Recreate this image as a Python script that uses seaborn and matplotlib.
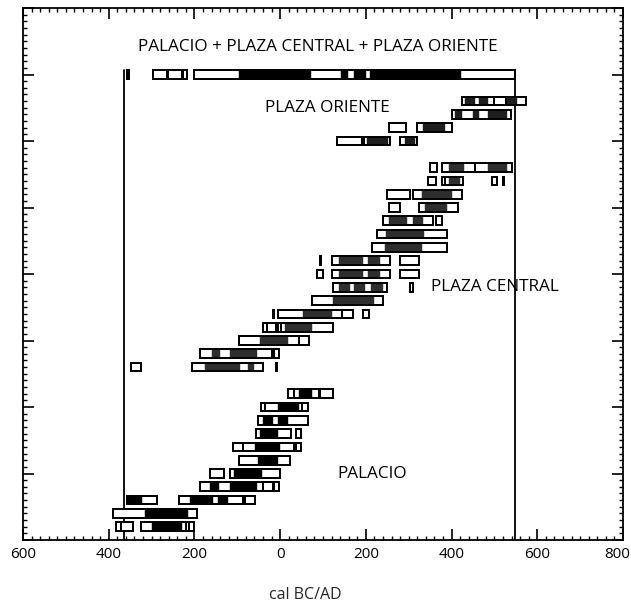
import matplotlib
matplotlib.use("Agg")
import matplotlib.pyplot as plt
import matplotlib.transforms as mtransforms
import seaborn as sns
import pandas as pd
from matplotlib.ticker import MultipleLocator

# ---------------- data (years: negative = BC, positive = AD) ----------------
# (row, start, end) of 95% ranges (white boxes)
combined_boxes = [(35, -357, -352), (35, -297, -264), (35, -262, -230), (35, -227, -217), (35, -200, 547)]
combined_dark = [(35, -96, 73), (35, 142, 159), (35, 173, 201), (35, 210, 423)]

oriente_boxes = [(33, 424, 498), (33, 498, 526), (33, 526, 573), (32, 400, 539),
                 (31, 255, 294), (31, 319, 400), (30, 133, 192), (30, 196, 257), (30, 280, 320)]
oriente_dark = [(33, 432, 455), (33, 464, 486), (33, 529, 552), (32, 408, 425), (32, 450, 464),
                (32, 484, 529), (31, 333, 385), (30, 203, 252), (30, 292, 315)]

central_boxes = [(28, 350, 367), (28, 377, 455), (28, 455, 541),
                 (27, 346, 363), (27, 377, 385), (27, 385, 426), (27, 494, 505), (27, 519, 522),
                 (26, 249, 303), (26, 310, 424),
                 (25, 255, 280), (25, 323, 415),
                 (24, 241, 356), (24, 364, 377),
                 (23, 226, 389),
                 (22, 214, 389),
                 (21, 92, 95), (21, 121, 257), (21, 280, 323),
                 (20, 86, 100), (20, 121, 257), (20, 280, 323),
                 (19, 124, 249), (19, 302, 311),
                 (18, 74, 241),
                 (17, -17, -15), (17, -4, 145), (17, 145, 170), (17, 193, 208),
                 (16, -39, -30), (16, -30, -9), (16, -6, 1), (16, 1, 124),
                 (15, -97, 43), (15, 43, 68),
                 (14, -188, -19), (14, -14, -2),
                 (13, -348, -324), (13, -206, -39), (13, -9, -7)]
central_dark = [(28, 393, 428), (28, 486, 529), (27, 393, 420), (26, 331, 401), (25, 338, 389),
                (24, 253, 296), (24, 311, 334), (23, 247, 336), (22, 245, 331),
                (21, 138, 194), (21, 206, 233), (20, 138, 194), (20, 206, 233),
                (19, 138, 163), (19, 172, 197), (19, 212, 240), (18, 123, 218), (17, 53, 121),
                (16, 12, 74), (15, -48, 19), (14, -159, -140), (14, -117, -53),
                (13, -175, -93), (13, -76, -62)]

palacio_boxes = [(11, 19, 33), (11, 33, 91), (11, 93, 123),
                 (10, -45, -35), (10, -35, 51), (10, 51, 64),
                 (9, -51, 64),
                 (8, -56, 25), (8, 37, 48),
                 (7, -111, -86), (7, -86, 33), (7, 37, 48),
                 (6, -97, 23),
                 (5, -163, -132), (5, -118, 0),
                 (4, -188, -39), (4, -39, -16), (4, -14, -2),
                 (3, -358, -288), (3, -237, -86), (3, -82, -58),
                 (2, -390, -194),
                 (1, -383, -372), (1, -372, -344), (1, -325, -219), (1, -219, -212), (1, -212, -202)]
palacio_dark = [(11, 43, 74), (10, -4, 43), (9, -39, -16), (9, -4, 19), (8, -47, -4), (7, -58, 0),
                (6, -52, -4), (5, -107, -43), (4, -163, -142), (4, -118, -53),
                (3, -355, -323), (3, -210, -156), (3, -144, -121), (2, -315, -214), (1, -299, -229)]

boundary_years = [-365, 547]
x_ticks = [-600, -400, -200, 0, 200, 400, 600, 800]
x_tick_labels = ["600", "400", "200", "0", "200", "400", "600", "800"]

labels = ["PALACIO + PLAZA CENTRAL + PLAZA ORIENTE", "PLAZA ORIENTE", "PLAZA CENTRAL", "PALACIO"]
label_x = [89, 110, 502, 215]
label_y = [37.1, 32.5, 19.0, 5.0]

# ---------------- figure ----------------
sns.set_theme(style="ticks")
plt.rcParams["font.family"] = ["Open Sans", "DejaVu Sans"]

fig = plt.figure(figsize=(6.31, 6.03), dpi=100)
ax = fig.add_axes([23 / 631, 1 - 540 / 603, 600 / 631, 532 / 603])

def to_df(rows):
    return pd.DataFrame(rows, columns=["row", "start", "end"])

H = 0.66
groups = [
    (combined_boxes, combined_dark, "black"),
    (oriente_boxes, oriente_dark, "#1e1e1e"),
    (central_boxes, central_dark, "#2e2e2e"),
    (palacio_boxes, palacio_dark, "black"),
]
for boxes, dark, dcol in groups:
    b = to_df(boxes)
    d = to_df(dark)
    ax.barh(b["row"], b["end"] - b["start"], left=b["start"], height=H,
            color="white", edgecolor="black", linewidth=1.3, zorder=2)
    ax.barh(d["row"], d["end"] - d["start"], left=d["start"], height=H,
            color=dcol, edgecolor=dcol, linewidth=0.3, zorder=3)
    ax.barh(b["row"], b["end"] - b["start"], left=b["start"], height=H,
            color="none", edgecolor="black", linewidth=1.3, zorder=4)

for xv in boundary_years:
    ax.plot([xv, xv], [0, 35 + H / 2], color="black", lw=1.3, zorder=1)

for t, x, y in zip(labels, label_x, label_y):
    ax.text(x, y, t, ha="center", va="center", fontsize=12.3, color="black")

ax.set_xlim(-600, 800)
ax.set_ylim(0, 40)
ax.set_xticks(x_ticks)
ax.set_xticklabels(x_tick_labels, fontsize=11, color="black")
ax.xaxis.set_minor_locator(MultipleLocator(20))
ax.yaxis.set_major_locator(MultipleLocator(5))
ax.yaxis.set_minor_locator(MultipleLocator(0.5))
ax.set_yticklabels([])
ax.tick_params(which="both", direction="in", top=True, right=True, color="black")
ax.tick_params(which="major", length=8, width=1.2, pad=5)
ax.tick_params(which="minor", length=3, width=1.0)
for s in ax.spines.values():
    s.set_linewidth(1.3)
    s.set_color("black")

# keep the last tick label inside the canvas
last = ax.get_xticklabels()[-1]
last.set_transform(last.get_transform() + mtransforms.ScaledTranslation(-6 / 100, 0, fig.dpi_scale_trans))

fig.text(305 / 631, 1 - 595 / 603, "cal BC/AD", ha="center", va="center", fontsize=11.5)

fig.savefig("out.png", dpi=100, facecolor="white")
